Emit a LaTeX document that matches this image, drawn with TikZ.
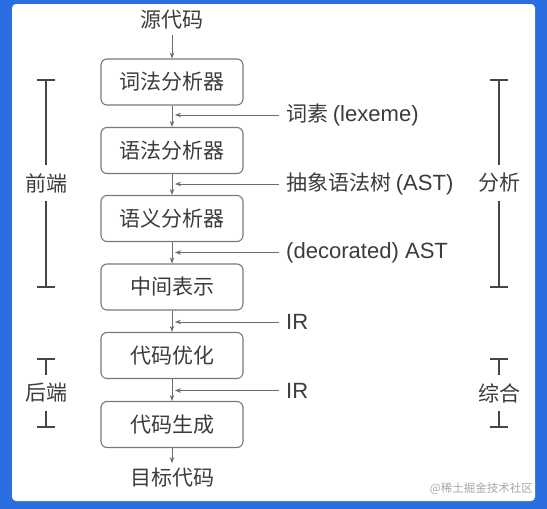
\documentclass[tikz,border=0pt]{standalone}
\usepackage{fontspec}
\setmainfont{Noto Sans CJK SC}
\newfontfamily\lat[Scale=1.05]{Liberation Sans}
\usetikzlibrary{arrows.meta,calc}
\definecolor{bgblue}{RGB}{42,110,224}
\definecolor{txt}{RGB}{60,60,60}
\definecolor{edge}{RGB}{120,120,120}
\tikzset{
  box/.style={draw=edge, line width=1.1pt, rounded corners=6pt, minimum width=142pt, minimum height=46pt, inner sep=0pt, text=txt, font=\fontsize{21}{24}\selectfont},
  lbl/.style={text=txt, inner sep=0pt, font=\fontsize{21}{24}\selectfont},
  side/.style={text=txt, inner sep=8pt, font=\fontsize{21}{24}\selectfont},
  arr/.style={draw=edge!90!black, line width=0.8pt, -{Stealth[length=6pt,width=4.5pt]}},
  brk/.style={draw=txt!95, line width=2pt},
  bartip/.tip={Bar[width=18pt,line width=2pt]}
}
\begin{document}
\begin{tikzpicture}[x=1pt,y=-1pt]
\useasboundingbox (0,0) rectangle (547,509);
\fill[bgblue] (0,0) rectangle (547,509);
\fill[white, rounded corners=4pt] (12,4) rectangle (535,501);

% main chain
\node[lbl] (src) at (172,20) {源代码};
\node[box] (b1) at (172,82) {词法分析器};
\node[box] (b2) at (172,150.5) {语法分析器};
\node[box] (b3) at (172,218.5) {语义分析器};
\node[box] (b4) at (172,287) {中间表示};
\node[box] (b5) at (172,355.5) {代码优化};
\node[box] (b6) at (172,424.5) {代码生成};
\node[lbl] (dst) at (172,478) {目标代码};

\draw[arr] ([yshift=-5pt]src.south) -- (b1.north);
\draw[arr] (b1) -- (b2);
\draw[arr] (b2) -- (b3);
\draw[arr] (b3) -- (b4);
\draw[arr] (b4) -- (b5);
\draw[arr] (b5) -- (b6);
\draw[arr] (b6) -- ([yshift=5pt]dst.north);

% side labels
\node[lbl, anchor=west] (l1) at (286,115) {词素 {\lat (lexeme)}};
\node[lbl, anchor=west] (l2) at (286,184) {抽象语法树 {\lat (AST)}};
\node[lbl, anchor=west] (l3) at (286,252.5) {\lat (decorated) AST};
\node[lbl, anchor=west] (l4) at (286,322) {\lat IR};
\node[lbl, anchor=west] (l5) at (286,390.5) {\lat IR};
\foreach \l in {l1,l2,l3,l4,l5}{
  \draw[arr] ([xshift=-7pt]\l.west) -- ($(\l.west -| b1.center)+(3,0)$);
}

% brackets left
\node[side] (fe) at (46,183) {前端};
\coordinate (fet) at (46,79);
\coordinate (feb) at (46,288);
\draw[brk, bartip-] (fet) -- (fe.north);
\draw[brk, -bartip] (fe.south) -- (feb);

\node[side] (be) at (46,393) {后端};
\coordinate (bet) at (46,358);
\coordinate (beb) at (46,428);
\draw[brk, bartip-] (bet) -- (be.north);
\draw[brk, -bartip] (be.south) -- (beb);

% brackets right
\node[side] (an) at (499,183) {分析};
\coordinate (ant) at (499,79);
\coordinate (anb) at (499,288);
\draw[brk, bartip-] (ant) -- (an.north);
\draw[brk, -bartip] (an.south) -- (anb);

\node[side] (sy) at (499,393) {综合};
\coordinate (syt) at (499,358);
\coordinate (syb) at (499,428);
\draw[brk, bartip-] (syt) -- (sy.north);
\draw[brk, -bartip] (sy.south) -- (syb);

% watermark
\node[text=black!35, inner sep=0pt, font=\fontsize{11.5}{13}\selectfont, anchor=east] (wm) at (533,489) {@稀土掘金技术社区};
\end{tikzpicture}
\end{document}
